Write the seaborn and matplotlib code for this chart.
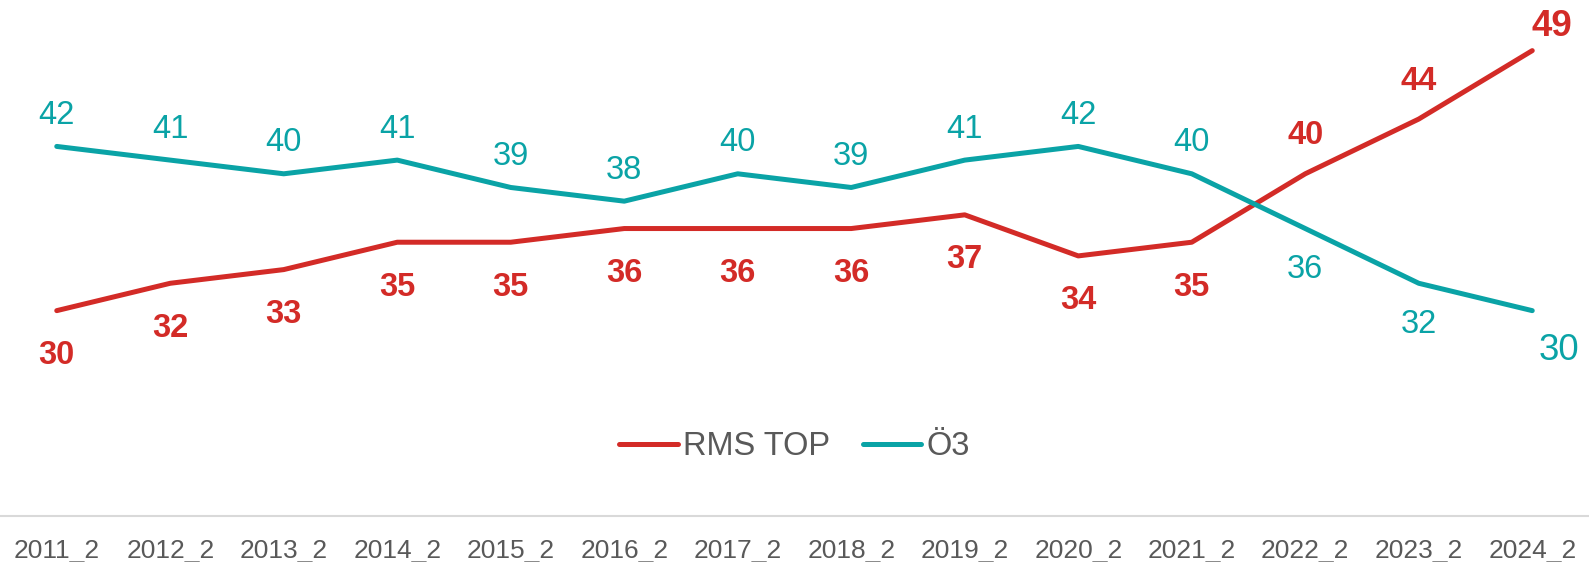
import matplotlib
matplotlib.use("Agg")
import matplotlib.pyplot as plt
import numpy as np
import pandas as pd
import seaborn as sns

years = ["2011_2", "2012_2", "2013_2", "2014_2", "2015_2", "2016_2", "2017_2",
         "2018_2", "2019_2", "2020_2", "2021_2", "2022_2", "2023_2", "2024_2"]
rms_top = [30, 32, 33, 35, 35, 36, 36, 36, 37, 34, 35, 40, 44, 49]
oe3 = [42, 41, 40, 41, 39, 38, 40, 39, 41, 42, 40, 36, 32, 30]

RED = "#D32B27"
TEAL = "#0AA3A6"
GREY = "#595959"

sns.set_style("white")
plt.rcParams["font.family"] = ["Liberation Sans", "DejaVu Sans"]

df = pd.DataFrame({
    "Jahr": years * 2,
    "Wert": rms_top + oe3,
    "Sender": ["RMS TOP"] * len(years) + ["Ö3"] * len(years),
})

fig = plt.figure(figsize=(15.89, 5.62), dpi=100)
ax = fig.add_axes([0, 0.082, 1, 0.918])

sns.lineplot(data=df, x="Jahr", y="Wert", hue="Sender", sort=False,
             palette={"RMS TOP": RED, "Ö3": TEAL}, linewidth=3.6, ax=ax,
             legend=False)
for l in ax.lines:
    l.set_solid_capstyle("round")
    l.set_solid_joinstyle("round")

ax.set_xlim(-0.5, len(years) - 0.5)
ax.set_ylim(15, 52.7)

# data labels (offsets in px): red bold below, teal above; they swap after the crossing
n = len(years)
for i, v in enumerate(rms_top):
    last = i == n - 1
    up = i >= 11
    dx = 20 if last else 0
    dy = 24 if last else (38 if up else -45)
    ax.annotate(str(v), (i, v), xytext=(dx * 0.72, dy * 0.72), textcoords="offset points",
                ha="center", va="center", color=RED, fontweight="bold",
                fontsize=26.5 if last else 23.5)
for i, v in enumerate(oe3):
    last = i == n - 1
    down = i >= 11
    dx = 27 if last else 0
    dy = -40 if last else (-41 if down else 31)
    ax.annotate(str(v), (i, v), xytext=(dx * 0.72, dy * 0.72), textcoords="offset points",
                ha="center", va="center", color=TEAL,
                fontsize=26.5 if last else 23.5)

handles = [plt.Line2D([], [], color=RED, lw=3.6, solid_capstyle="round"),
           plt.Line2D([], [], color=TEAL, lw=3.6, solid_capstyle="round")]
leg = fig.legend(handles, ["RMS TOP", "Ö3"], loc="center", bbox_to_anchor=(0.5, 0.205),
                 ncol=2, frameon=False, fontsize=23.5, handlelength=1.8,
                 handletextpad=0.15, columnspacing=1.0)
for t in leg.get_texts():
    t.set_color(GREY)

ax.set_xlabel("")
ax.set_ylabel("")
ax.set_yticks([])
ax.tick_params(axis="x", length=0, labelsize=19, labelcolor=GREY, pad=16.5)
for s in ["top", "right", "left"]:
    ax.spines[s].set_visible(False)
ax.spines["bottom"].set_color("#D9D9D9")
ax.spines["bottom"].set_linewidth(1.5)

fig.savefig("out.png", dpi=100)
